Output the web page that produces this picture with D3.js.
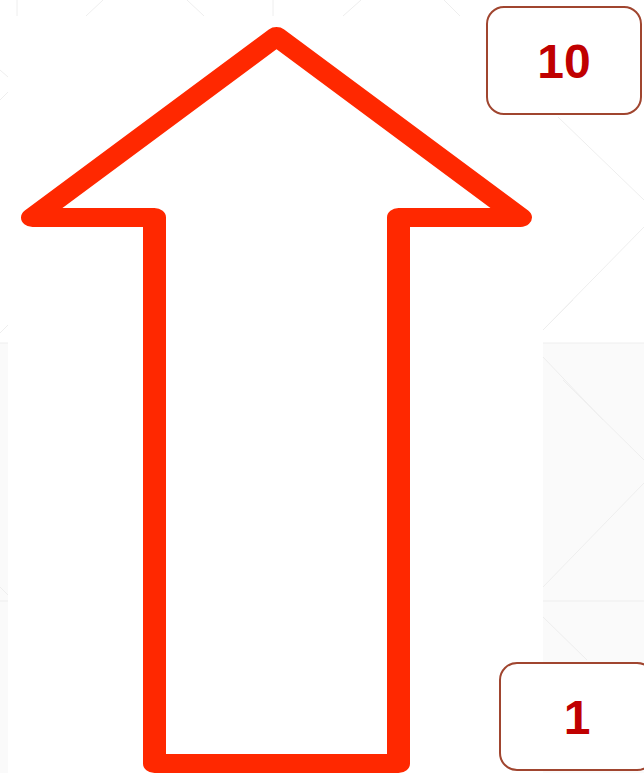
<!DOCTYPE html>
<html>
<head>
<meta charset="utf-8">
<script src="https://cdn.jsdelivr.net/npm/d3@7"></script>
<style>
  html, body { margin: 0; padding: 0; background: #fff; }
  svg { display: block; }
</style>
</head>
<body>
<div id="chart"></div>
<script>
// scale levels shown in the boxes
const levels = [10, 1];
const levelLabels = ["10", "1"];

// arrow outline in its own unit frame: x -1..1 (centre 0), y 0 (foot) .. 1 (tip)
const arrowX = [-0.5, -0.5, -1, 0, 1, 0.5, 0.5];
const arrowY = [0, 0.751, 0.751, 1, 0.751, 0.751, 0];

// faint background pattern of the slide template
const bgLines = [
  [17, 0, 17, 16], [86, 16, 103, 0], [187, 0, 204, 16], [273, 0, 273, 16],
  [343, 16, 361, 0], [444, 0, 460, 16],
  [558, 117, 644, 200], [644, 227, 543, 330], [543, 343, 644, 343],
  [573, 300, 543, 330], [543, 357, 603, 420],
  [563, 380, 644, 460], [644, 483, 543, 587], [543, 601, 644, 601],
  [543, 617, 587, 660], [0, 343, 8, 343], [0, 333, 8, 325], [0, 601, 8, 601],
  [0, 587, 8, 595], [0, 70, 8, 77], [0, 100, 8, 92]
];

const width = 644, height = 773;
const sx = 23 / 19; // the shape is stretched horizontally, strokes too

const svg = d3.select("#chart").append("svg")
  .attr("width", width)
  .attr("height", height);

// background
svg.append("rect").attr("width", width).attr("height", height).attr("fill", "#ffffff");
svg.append("rect").attr("x", 543).attr("y", 343).attr("width", 101).attr("height", 430).attr("fill", "#fafafa");
svg.append("rect").attr("x", 0).attr("y", 343).attr("width", 8).attr("height", 430).attr("fill", "#fafafa");
svg.append("g")
  .selectAll("line")
  .data(bgLines)
  .join("line")
    .attr("x1", d => d[0]).attr("y1", d => d[1])
    .attr("x2", d => d[2]).attr("y2", d => d[3])
    .attr("stroke", "#eeeeee")
    .attr("stroke-width", 1);

// arrow
const ax = d3.scaleLinear([-1, 1], [32.5 / sx, 520.5 / sx]);
const ay = d3.scaleLinear([0, 1], [763.5, 36.5]);

const line = d3.line()
  .x(i => ax(arrowX[i]))
  .y(i => ay(arrowY[i]))
  .curve(d3.curveLinearClosed);

svg.append("g")
  .attr("transform", `scale(${sx},1)`)
  .append("path")
    .attr("d", line(d3.range(arrowX.length)))
    .attr("fill", "none")
    .attr("stroke", "#ff2800")
    .attr("stroke-width", 19)
    .attr("stroke-linejoin", "round");

// level boxes
const ly = d3.scaleLinear([1, 10], [716.5, 60.5]);
const boxW = 154, boxH = 107;
const boxX = d => d === 10 ? 487 : 500;

const box = svg.append("g")
  .selectAll("g")
  .data(levels)
  .join("g")
    .attr("transform", d => `translate(${boxX(d)},${ly(d) - boxH / 2})`);

box.append("rect")
  .attr("width", boxW)
  .attr("height", boxH)
  .attr("rx", 17)
  .attr("fill", "#ffffff")
  .attr("stroke", "#a0452f")
  .attr("stroke-width", 2);

box.append("text")
  .attr("x", boxW / 2)
  .attr("y", boxH / 2 + 17)
  .attr("text-anchor", "middle")
  .attr("font-family", "Liberation Sans, Arial, Helvetica, sans-serif")
  .attr("font-weight", "bold")
  .attr("font-size", 48)
  .attr("fill", "#c00000")
  .text((d, i) => levelLabels[i]);
</script>
</body>
</html>
